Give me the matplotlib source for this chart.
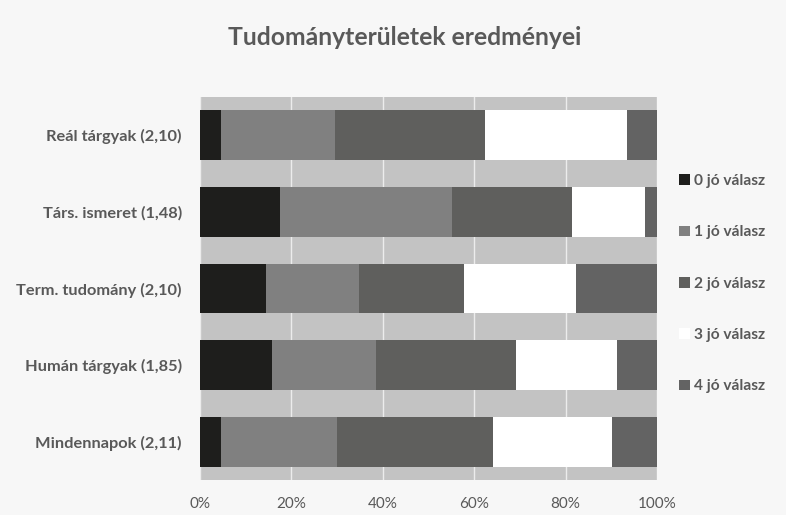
import matplotlib.pyplot as plt
import numpy as np

plt.rcParams['font.family'] = ['Lato', 'DejaVu Sans']

categories = ["Reál tárgyak (2,10)", "Társ. ismeret (1,48)", "Term. tudomány (2,10)",
              "Humán tárgyak (1,85)", "Mindennapok (2,11)"]
series = ["0 jó válasz", "1 jó válasz", "2 jó válasz", "3 jó válasz", "4 jó válasz"]
# percentages, one list per series (order follows categories)
v0 = [4.6, 17.5, 14.4, 15.8, 4.6]
v1 = [24.9, 37.7, 20.4, 22.7, 25.4]
v2 = [32.9, 26.2, 23.0, 30.6, 34.1]
v3 = [31.0, 16.0, 24.5, 22.1, 26.1]
v4 = [6.6, 2.6, 17.7, 8.8, 9.8]
colors = ["#1e1e1c", "#808080", "#5f5f5d", "#ffffff", "#636363"]

txt = "#595959"
fig = plt.figure(figsize=(7.86, 5.15), dpi=100, facecolor="#f7f7f7")
ax = fig.add_axes([0.2545, 0.068, 0.5815, 0.7437])
ax.set_facecolor("#c3c3c3")

vals = np.array([v0, v1, v2, v3, v4])
y = np.arange(len(categories))
left = np.zeros(len(categories))
handles = []
for i in range(len(series)):
    b = ax.barh(y, vals[i], left=left, height=0.65, color=colors[i], label=series[i], zorder=3)
    handles.append(b)
    left += vals[i]

ax.set_xlim(0, 100)
ax.set_ylim(len(categories) - 0.5, -0.5)
ax.set_xticks([0, 20, 40, 60, 80, 100])
ax.set_xticklabels(["0%", "20%", "40%", "60%", "80%", "100%"])
ax.set_yticks(y)
ax.set_yticklabels(categories, fontweight="bold")
ax.tick_params(axis="x", length=0, colors=txt, labelsize=11)
ax.tick_params(axis="y", length=0, colors=txt, labelsize=11.8, pad=13)
ax.tick_params(axis="x", pad=12)
ax.grid(axis="x", color="#ececec", linewidth=1, zorder=1)
for s in ax.spines.values():
    s.set_visible(False)

fig.text(0.515, 0.928, "Tudományterületek eredményei", ha="center", va="center",
         fontsize=17.8, fontweight="bold", color=txt)

leg = fig.legend(handles=handles, labels=series, loc="center left",
                 bbox_to_anchor=(0.846, 0.449), frameon=False,
                 handlelength=0.7, handleheight=0.7, handletextpad=0.25,
                 labelspacing=2.4, prop={"weight": "bold", "size": 11.2})
for t in leg.get_texts():
    t.set_color(txt)

fig.savefig("out.png", dpi=100, facecolor=fig.get_facecolor())
